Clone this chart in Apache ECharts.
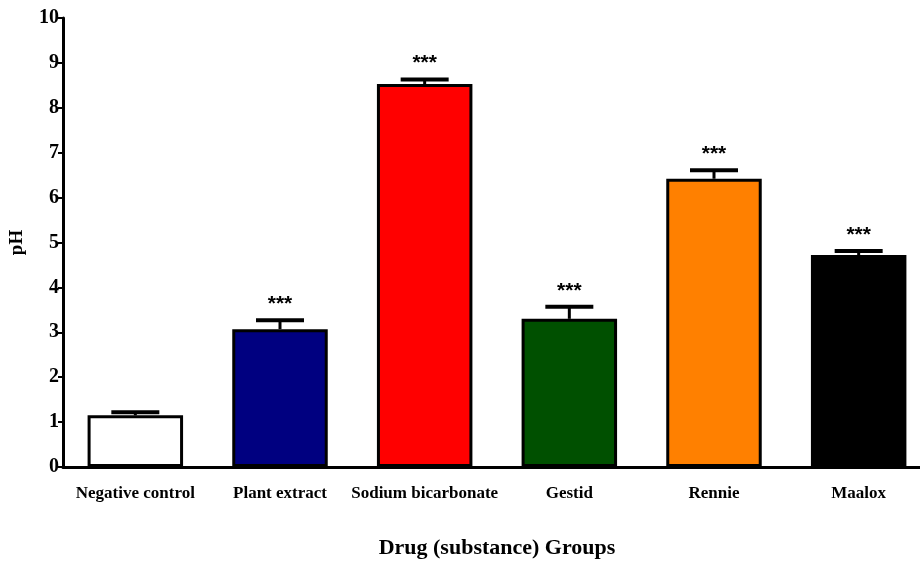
<!DOCTYPE html>
<html><head><meta charset="utf-8">
<script src="https://cdn.jsdelivr.net/npm/echarts@6/dist/echarts.min.js"></script>
<style>html,body{margin:0;padding:0;background:#fff;overflow:hidden}#c{width:920px;height:561px}</style>
</head><body><div id="c"></div>
<script>
const categories = ['Negative control','Plant extract','Sodium bicarbonate','Gestid','Rennie','Maalox'];
const meanPH = [1.15, 3.07, 8.53, 3.30, 6.42, 4.72];
const errPH = [0.07, 0.20, 0.10, 0.27, 0.19, 0.09];
const significance = ['', '***', '***', '***', '***', '***'];
const barColors = ['#ffffff','#000080','#ff0000','#005000','#ff8000','#000000'];
const yTicks = [0,1,2,3,4,5,6,7,8,9,10];

const serif = '"Liberation Serif","Times New Roman",serif';
const chart = echarts.init(document.getElementById('c'));
chart.setOption({
  animation: false,
  grid: {left: 63, right: -11, top: 18, bottom: 94, containLabel: false, outerBoundsMode: 'none'},
  xAxis: {
    type: 'category', data: categories,
    name: 'Drug (substance) Groups', nameLocation: 'middle', nameGap: 70,
    nameTextStyle: {fontFamily: serif, fontWeight: 'bold', fontSize: 22, color: '#000'},
    axisLine: {lineStyle: {color: '#000', width: 3}},
    axisTick: {alignWithLabel: true, length: 8, lineStyle: {color: '#000', width: 2}},
    axisLabel: {fontFamily: serif, fontWeight: 'bold', fontSize: 17, color: '#000', margin: 18, interval: 0}
  },
  yAxis: {
    type: 'value', min: yTicks[0], max: yTicks[yTicks.length-1], interval: 1,
    name: 'pH', nameLocation: 'middle', nameGap: 36, nameRotate: 90,
    nameTextStyle: {fontFamily: serif, fontWeight: 'bold', fontSize: 19, color: '#000'},
    axisLine: {show: true, lineStyle: {color: '#000', width: 3}},
    axisTick: {show: true, length: 5, lineStyle: {color: '#000', width: 2}},
    axisLabel: {fontFamily: serif, fontWeight: 'bold', fontSize: 20, color: '#000', margin: 4},
    splitLine: {show: false}
  },
  series: [{
    type: 'bar', barWidth: '66%',
    data: meanPH.map((v, i) => ({value: v, itemStyle: {color: barColors[i]}})),
    itemStyle: {borderColor: '#000', borderWidth: 3},
    z: 2
  }, {
    type: 'custom', z: 3,
    data: meanPH.map((v, i) => [i, v, errPH[i]]),
    renderItem: function (params, api) {
      const base = api.coord([api.value(0), api.value(1)]);
      const top = api.coord([api.value(0), api.value(1) + api.value(2)]);
      const half = 24;
      const children = [
        {type: 'line', shape: {x1: base[0], y1: base[1], x2: base[0], y2: top[1]}, style: {stroke: '#000', lineWidth: 3}},
        {type: 'line', shape: {x1: base[0] - half, y1: top[1], x2: base[0] + half, y2: top[1]}, style: {stroke: '#000', lineWidth: 4}}
      ];
      const s = significance[params.dataIndex];
      if (s) children.push({type: 'text', x: base[0], y: top[1] - 16,
        style: {text: s, fontFamily: 'Liberation Sans, Arial, sans-serif', fontWeight: 'bold', fontSize: 21, fill: '#000', align: 'center', verticalAlign: 'middle'}});
      return {type: 'group', children: children};
    }
  }]
});
</script></body></html>
